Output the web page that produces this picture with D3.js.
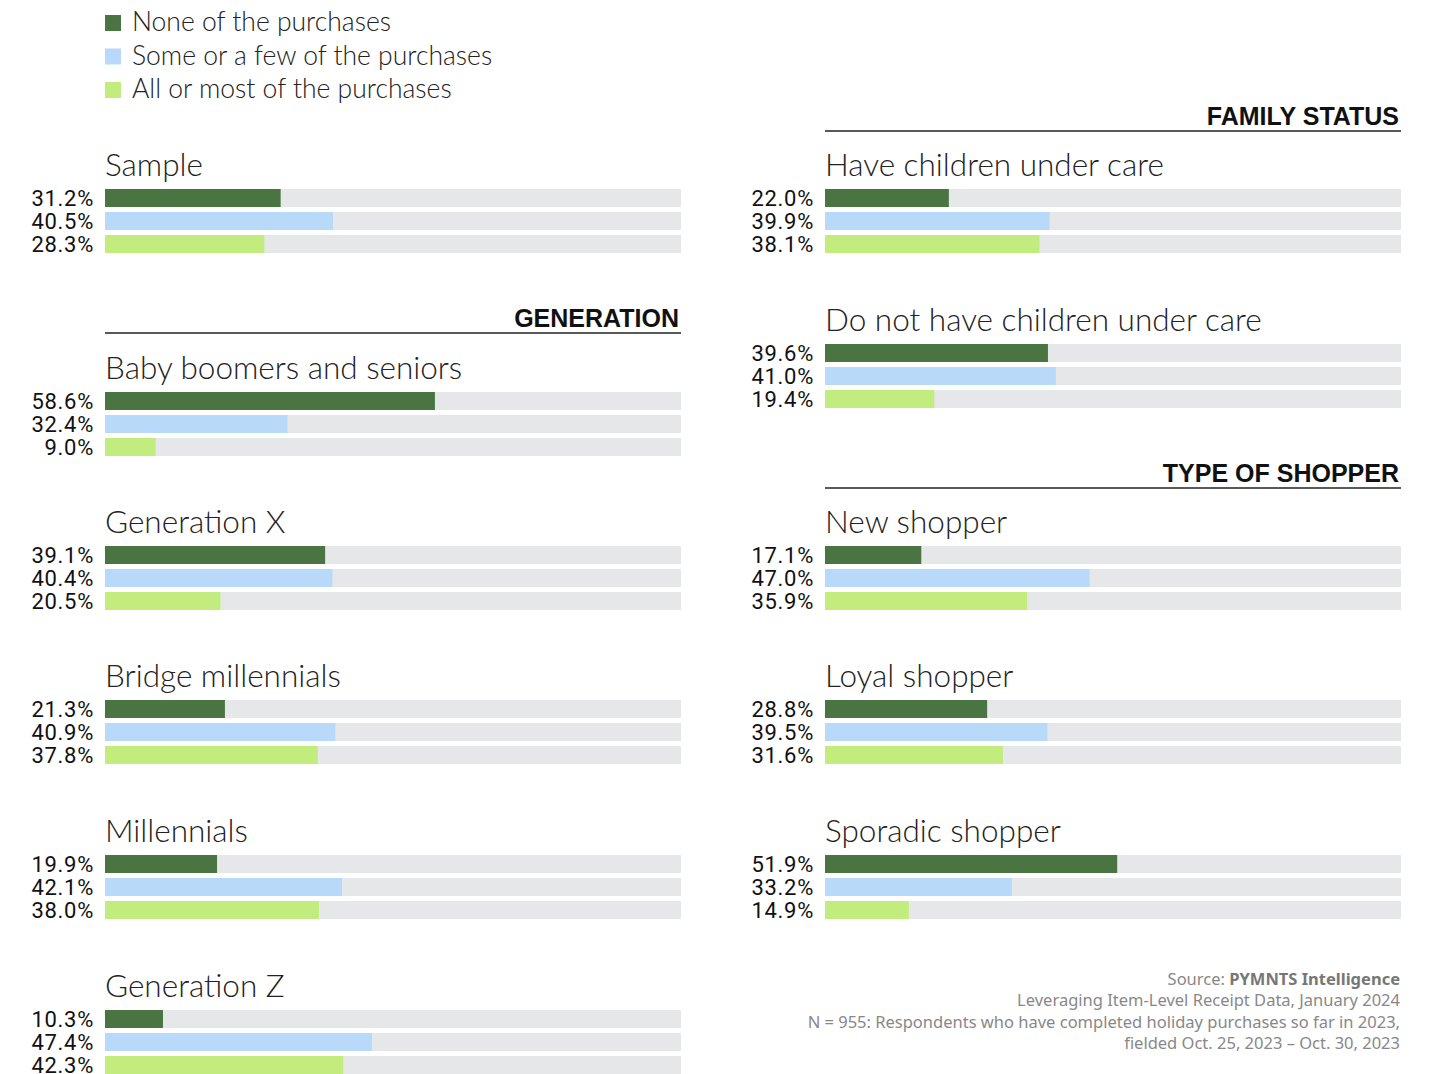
<!DOCTYPE html>
<html><head><meta charset="utf-8">
<script src="https://cdn.jsdelivr.net/npm/d3@7"></script>
<style>
body{margin:0;background:#fff;}
svg{display:block;}
</style></head>
<body>
<svg id="chart" width="1432" height="1074"></svg>
<script>
const seriesNames = ["None of the purchases", "Some or a few of the purchases", "All or most of the purchases"];
const seriesColors = ["#4a7543", "#b9d9fb", "#c2ed7e"];

const leftCategories = ["Sample", "Baby boomers and seniors", "Generation X", "Bridge millennials", "Millennials", "Generation Z"];
const leftNone = [31.2, 58.6, 39.1, 21.3, 19.9, 10.3];
const leftSome = [40.5, 32.4, 40.4, 40.9, 42.1, 47.4];
const leftAll  = [28.3, 9.0, 20.5, 37.8, 38.0, 42.3];

const rightCategories = ["Have children under care", "Do not have children under care", "New shopper", "Loyal shopper", "Sporadic shopper"];
const rightNone = [22.0, 39.6, 17.1, 28.8, 51.9];
const rightSome = [39.9, 41.0, 47.0, 39.5, 33.2];
const rightAll  = [38.1, 19.4, 35.9, 31.6, 14.9];

const sectionHeaders = ["GENERATION", "FAMILY STATUS", "TYPE OF SHOPPER"];

const sourceLines = ["Leveraging Item-Level Receipt Data, January 2024",
  "N = 955: Respondents who have completed holiday purchases so far in 2023,",
  "fielded Oct. 25, 2023 \u2013 Oct. 30, 2023"];

const svg = d3.select("#chart");
const trackW = 576;
const x = d3.scaleLinear().domain([0, 100]).range([0, 563]);
const barH = 18, step = 23;

// Legend
const lg = svg.append("g");
seriesNames.forEach((n, i) => {
  lg.append("rect").attr("x", 105).attr("y", 15 + i * 33.5).attr("width", 16).attr("height", 16).attr("fill", seriesColors[i]);
  lg.append("text").attr("x", 132).attr("y", 31 + i * 33.5).text(n)
    .attr("font-family", "Lato").attr("font-weight", 300).attr("font-size", 26.5).attr("fill", "#222");
});

function panel(x0, titleY, title, vals) {
  const g = svg.append("g").attr("transform", `translate(${x0},0)`);
  g.append("text").attr("x", 0).attr("y", titleY + 11).text(title)
    .attr("font-family", "Lato").attr("font-weight", 300).attr("font-size", 31.5).attr("fill", "#222");
  const by = titleY + 24;
  vals.forEach((v, i) => {
    const y = by + i * step;
    g.append("rect").attr("x", 0).attr("y", y).attr("width", trackW).attr("height", barH).attr("fill", "#e6e7e8");
    g.append("rect").attr("x", 0).attr("y", y).attr("width", x(v)).attr("height", barH).attr("fill", seriesColors[i]);
    g.append("text").attr("x", -11).attr("y", y + barH - 1).attr("text-anchor", "end")
      .text(v.toFixed(1) + "%")
      .attr("font-family", "Roboto").attr("font-weight", 400).attr("font-size", 22)
      .attr("letter-spacing", 0.7).attr("fill", "#111");
  });
}

function header(x0, y, label) {
  svg.append("text").attr("x", x0 + trackW - 2).attr("y", y).attr("text-anchor", "end").text(label)
    .attr("font-family", "Liberation Sans").attr("font-weight", "bold").attr("font-size", 25).attr("fill", "#111");
  svg.append("line").attr("x1", x0).attr("x2", x0 + trackW).attr("y1", y + 6).attr("y2", y + 6)
    .attr("stroke", "#222").attr("stroke-width", 1.3);
}

const LX = 105, RX = 825;
const leftTitleY = [165, 368, 522, 676, 831, 986];
leftCategories.forEach((c, i) => panel(LX, leftTitleY[i], c, [leftNone[i], leftSome[i], leftAll[i]]));
const rightTitleY = [165, 320, 522, 676, 831];
rightCategories.forEach((c, i) => panel(RX, rightTitleY[i], c, [rightNone[i], rightSome[i], rightAll[i]]));

header(LX, 327, sectionHeaders[0]);
header(RX, 125, sectionHeaders[1]);
header(RX, 482, sectionHeaders[2]);

// Source
const srcFont = {family: "Noto Sans", size: 16.5};
const src = svg.append("text").attr("x", 1400).attr("y", 985).attr("text-anchor", "end")
  .attr("font-family", srcFont.family).attr("font-size", srcFont.size).attr("fill", "#888");
src.append("tspan").text("Source: ");
src.append("tspan").attr("font-weight", "bold").attr("fill", "#777").text("PYMNTS Intelligence");
sourceLines.forEach((l, i) => {
  svg.append("text").attr("x", 1400).attr("y", 1006 + i * 21.5).attr("text-anchor", "end").text(l)
    .attr("font-family", srcFont.family).attr("font-size", srcFont.size).attr("fill", "#888");
});
</script>
</body></html>
